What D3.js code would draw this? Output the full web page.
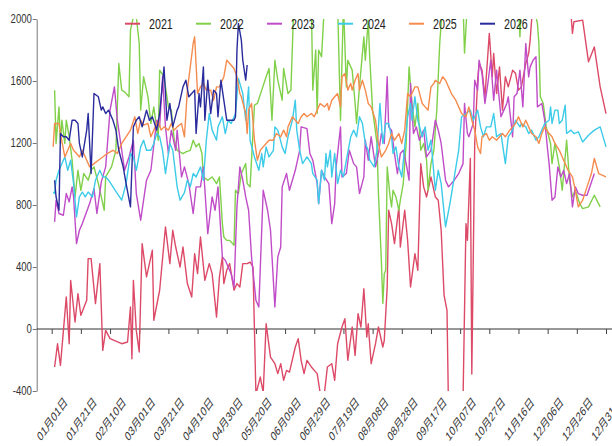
<!DOCTYPE html>
<html><head><meta charset="utf-8">
<script src="https://cdn.jsdelivr.net/npm/d3@7"></script>
<style>body{margin:0;background:#fff;} svg{display:block;}</style>
</head><body><svg id="c" width="612" height="446"></svg>
<script>
const years = ["2021","2022","2023","2024","2025","2026"];
const colors = ["#dc4a68","#80d04a","#c04cc8","#3ccbe8","#f58c4e","#2a2b9c"];
const tickLabels = ["01月01日","01月21日","02月10日","03月01日","03月21日","04月10日","04月30日","05月20日","06月09日","06月29日","07月19日","08月08日","08月28日","09月17日","10月07日","10月27日","11月16日","12月06日","12月26日","12月31日"];
const tickIndex = [0,20,40,60,80,100,120,140,160,180,200,220,240,260,280,300,320,340,360,380];
const yTicks = [-400,0,400,800,1200,1600,2000];

// [category index, value]
const s2021 = [[2,-245],[4,-95],[6,-235],[10,207],[12,-95],[13,314],[16,45],[18,228],[20,88],[24,185],[25,454],[27,454],[30,164],[33,422],[35,-138],[37,-9],[40,-62],[48,-95],[52,-84],[54,142],[55,-192],[56,314],[58,-9],[60,-148],[62,551],[65,336],[69,508],[70,56],[74,250],[78,659],[81,422],[83,637],[85,529],[88,400],[90,529],[93,293],[96,207],[98,486],[100,357],[102,594],[105,314],[108,422],[110,357],[113,77],[115,336],[117,465],[118,293],[120,379],[122,422],[125,250],[127,293],[129,271],[131,422],[134,422],[136,432],[138,400],[140,-420],[143,-310],[145,-410],[147,34],[150,-181],[153,-224],[155,-288],[157,-224],[159,-331],[161,-267],[163,-278],[167,-116],[169,-62],[171,-202],[173,-288],[175,-202],[178,-245],[182,-288],[184,-410],[187,-410],[189,-245],[192,-224],[194,-331],[196,-95],[199,13],[201,67],[203,-202],[206,13],[208,-170],[210,99],[212,13],[214,260],[216,-52],[217,34],[219,-224],[222,-95],[224,13],[227,-116],[228,-73],[230,271],[231,766],[233,680],[235,551],[238,788],[239,529],[242,766],[244,572],[246,271],[249,486],[251,379],[253,1067],[255,917],[257,852],[260,981],[263,852],[265,831],[267,637],[269,217],[271,120],[272,-500],[276,-500],[280,-500],[282,-450],[284,680],[285,572],[287,1100],[288,-290],[290,1197],[292,1605],[293,1713],[295,1670],[297,1498],[300,1907],[302,1627],[303,1778],[305,1519],[307,1691],[309,1412],[311,1627],[313,1562],[316,1670],[318,1648],[320,1541],[322,1562],[325,1713],[327,1778],[328,1864],[329,1993],[331,2150],[342,2150],[355,2150],[357,1907],[358,1982],[364,1993],[368,1724],[372,1820],[376,1562],[380,1390]];
const s2022 = [[2,1541],[3,1197],[5,1433],[6,1197],[7,1347],[9,1197],[10,1347],[12,1240],[14,1089],[16,852],[18,1024],[20,895],[22,1003],[25,960],[27,1024],[29,1046],[32,938],[34,852],[36,766],[37,981],[41,1046],[44,1153],[46,1713],[48,1541],[50,1530],[53,1498],[54,1928],[56,2014],[58,2014],[60,1842],[61,1412],[63,1627],[66,1498],[68,1326],[70,1433],[73,1218],[74,1670],[77,1627],[80,1433],[82,1412],[84,1218],[86,1153],[90,1132],[92,1143],[95,1153],[97,1218],[99,1175],[101,1197],[103,1132],[104,981],[107,960],[110,981],[113,938],[115,981],[117,680],[118,594],[120,572],[122,572],[125,540],[126,895],[128,874],[130,1003],[133,1067],[134,938],[136,917],[139,1444],[141,1455],[144,1541],[147,1627],[149,1681],[151,1347],[153,1734],[155,1605],[158,1476],[159,1681],[162,1519],[164,1541],[166,2100],[170,2100],[174,2050],[178,2100],[179,1541],[181,1800],[182,1390],[183,1799],[185,1756],[187,2100],[196,2100],[198,1347],[200,2100],[202,1562],[203,1734],[206,1670],[208,1455],[209,1326],[211,1562],[214,1885],[215,1734],[217,1993],[218,1756],[220,1412],[223,1197],[224,874],[226,443],[227,164],[228,357],[229,379],[230,1046],[232,852],[233,788],[234,895],[236,852],[238,766],[239,831],[241,938],[243,1197],[245,1691],[247,1455],[249,1304],[251,1455],[253,1153],[255,1197],[257,1089],[258,895],[260,1067],[262,1153],[264,1412],[266,1842],[268,2100],[282,2100],[283,1780],[285,2100],[320,2100],[321,1885],[322,2100],[330,2100],[333,1970],[334,1842],[335,1498],[337,1455],[339,1304],[342,1197],[343,1067],[345,1197],[348,1046],[350,895],[352,1110],[353,1218],[355,960],[357,852],[359,895],[362,809],[364,777],[368,788],[372,863],[376,788]];
const s2023 = [[2,691],[3,831],[5,745],[8,734],[10,874],[12,820],[14,917],[15,852],[17,551],[19,637],[21,680],[26,809],[29,906],[31,745],[34,949],[37,1046],[40,1412],[43,1562],[45,1347],[48,1153],[50,1024],[53,1110],[56,1218],[58,874],[61,702],[65,960],[68,1024],[72,1347],[74,1304],[76,1627],[78,1304],[80,1132],[82,1283],[85,1153],[86,1283],[89,981],[91,1046],[94,938],[97,745],[99,917],[102,917],[104,1046],[107,615],[110,852],[112,766],[114,917],[117,465],[119,443],[121,400],[123,357],[125,271],[127,788],[129,1046],[131,960],[133,852],[135,766],[137,465],[140,185],[142,142],[145,895],[148,766],[150,637],[153,142],[155,465],[157,529],[158,917],[161,1003],[163,895],[167,1024],[170,1153],[171,1304],[175,1293],[177,1132],[179,1089],[182,938],[183,809],[185,1024],[187,981],[190,938],[192,680],[194,809],[195,1046],[198,1304],[199,981],[202,1003],[204,1153],[207,1067],[209,1046],[211,874],[214,981],[215,1218],[217,1089],[219,1240],[222,1046],[224,1132],[226,1261],[228,1197],[230,1627],[231,1304],[233,1283],[235,1132],[237,1003],[239,1132],[241,1153],[243,1067],[245,960],[246,1584],[248,1261],[250,1304],[252,1218],[255,1283],[257,1110],[260,1153],[263,1347],[265,1283],[267,1197],[270,960],[272,917],[276,960],[279,1003],[282,1067],[283,1455],[285,1261],[286,1240],[289,1326],[290,1605],[292,1541],[293,1734],[294,1691],[295,1648],[297,1455],[299,1584],[301,1734],[303,1476],[305,1670],[306,1562],[308,1369],[310,1412],[312,1455],[313,1498],[316,1240],[317,1498],[319,1519],[321,1670],[323,1433],[325,1842],[327,1627],[328,1691],[330,1734],[332,1756],[333,1433],[336,1455],[338,1347],[340,1153],[341,1067],[343,831],[345,852],[347,1046],[349,981],[351,1024],[353,938],[355,1003],[357,788],[359,917],[361,874],[364,863],[367,863],[372,1003]];
const s2024 = [[1,884],[2,874],[3,960],[5,1024],[8,1089],[9,1110],[11,1024],[13,1089],[15,938],[17,723],[19,852],[21,884],[23,852],[25,884],[28,852],[30,960],[33,1024],[35,981],[37,981],[39,960],[42,917],[45,874],[48,831],[51,938],[54,1132],[56,1110],[58,1024],[61,1175],[63,1218],[65,1153],[68,1153],[70,1197],[72,1261],[74,1240],[76,1153],[78,1003],[81,1197],[83,1153],[86,917],[88,831],[91,880],[93,960],[95,917],[97,1003],[99,981],[102,1046],[104,960],[106,1218],[108,1390],[110,1283],[113,1218],[114,1304],[117,1369],[119,1261],[121,1347],[123,1326],[126,1390],[128,1616],[131,1519],[133,1347],[135,1562],[136,1218],[139,1110],[142,1024],[144,1132],[145,1046],[147,1175],[149,1110],[152,1153],[153,1304],[155,1283],[158,1175],[160,1132],[162,1240],[165,1347],[167,1476],[168,1283],[170,1153],[172,1067],[175,1110],[178,1067],[179,1003],[182,960],[183,809],[185,1024],[187,960],[188,1132],[189,1046],[191,1153],[192,981],[194,1132],[196,938],[198,1024],[200,981],[202,1089],[205,1240],[207,1283],[209,1240],[211,1369],[213,1326],[215,1197],[217,1153],[218,1089],[221,1046],[223,1153],[225,1455],[227,1197],[229,1326],[231,1326],[233,1240],[234,1132],[236,1175],[238,1046],[240,981],[242,1175],[244,1369],[246,1455],[247,1347],[249,1498],[251,1347],[254,1240],[256,1304],[258,1153],[260,1218],[263,895],[265,1024],[267,938],[270,659],[273,809],[276,981],[279,1153],[281,1369],[284,1390],[287,1412],[289,1347],[292,1412],[294,1304],[296,1240],[298,1304],[301,1304],[303,1390],[305,1240],[308,1261],[311,1067],[313,1240],[316,1283],[318,1347],[321,1304],[322,1326],[325,1304],[327,1261],[329,1283],[332,1218],[334,1240],[336,1283],[338,1326],[341,1347],[342,1433],[343,1326],[345,1412],[347,1412],[348,1326],[350,1347],[352,1444],[353,1261],[356,1283],[358,1261],[361,1272],[364,1207],[368,1250],[372,1283],[376,1304],[380,1175]];
const s2025 = [[1,1175],[2,1326],[5,1326],[6,1261],[9,1110],[11,1153],[13,1197],[15,1153],[17,1132],[19,1110],[21,1153],[24,1089],[26,1046],[29,1067],[32,1089],[35,1110],[38,1132],[42,1153],[45,1132],[48,1197],[51,1240],[54,1283],[57,1369],[59,1261],[61,1347],[63,1315],[66,1326],[68,1240],[70,1283],[73,1347],[75,1283],[77,1304],[80,1283],[82,1326],[84,1283],[86,1304],[89,1326],[91,1240],[93,1541],[95,1691],[97,1842],[98,1885],[100,1519],[102,1562],[104,1584],[106,1541],[109,1541],[111,1476],[113,1562],[115,1562],[118,1627],[120,1734],[122,1713],[125,1681],[127,1627],[129,1519],[130,1498],[133,1390],[134,1261],[135,1412],[137,1455],[139,1218],[141,1089],[143,1153],[145,1175],[147,1197],[149,1218],[152,1218],[154,1261],[157,1240],[159,1283],[161,1240],[162,1304],[165,1369],[167,1347],[169,1326],[171,1369],[173,1390],[175,1369],[178,1390],[180,1369],[182,1412],[184,1455],[187,1433],[189,1455],[190,1412],[192,1476],[194,1498],[196,1519],[198,1433],[199,1627],[201,1648],[203,1541],[205,1584],[206,1541],[208,1605],[210,1648],[211,1541],[213,1605],[215,1541],[217,1455],[219,1433],[222,1347],[224,1197],[226,1110],[229,1153],[231,1197],[233,1261],[235,1218],[238,1261],[240,1197],[242,1283],[244,1519],[246,1498],[249,1562],[251,1562],[254,1455],[256,1433],[258,1412],[260,1562],[262,1584],[263,1605],[266,1584],[268,1627],[270,1605],[272,1562],[274,1519],[277,1476],[279,1433],[281,1390],[284,1369],[286,1433],[288,1347],[290,1283],[292,1175],[294,1132],[295,1240],[298,1261],[300,1218],[302,1240],[305,1218],[307,1240],[309,1261],[311,1240],[314,1283],[316,1304],[318,1326],[320,1369],[323,1304],[325,1347],[327,1304],[329,1261],[332,1240],[334,1197],[336,1261],[338,1304],[341,1261],[343,1240],[345,1197],[348,1153],[350,1110],[352,1067],[354,1024],[357,981],[359,895],[361,788],[364,831],[367,917],[370,1003],[372,1100],[375,1003],[380,981]];
const s2026 = [[2,960],[3,852],[5,766],[6,1261],[8,1240],[10,1240],[12,1218],[14,1347],[16,1347],[18,1326],[19,1197],[21,1110],[24,1283],[25,1390],[27,1003],[29,1519],[32,1498],[34,1412],[35,1433],[37,1390],[39,1412],[42,1347],[44,1283],[46,1153],[49,1046],[51,938],[54,788],[56,1304],[58,1347],[60,1369],[62,1304],[65,1412],[67,1347],[69,1369],[72,1283],[74,1390],[77,1691],[79,1347],[81,1455],[83,1304],[86,1412],[87,1433],[90,1562],[92,1605],[94,1498],[96,1519],[98,1541],[99,1261],[101,1519],[102,1433],[104,1691],[105,1347],[107,1605],[109,1390],[111,1541],[113,1519],[114,1369],[116,1605],[118,1476],[120,1347],[122,1347],[125,1347],[126,1369],[127,1799],[128,1971],[130,1864],[131,1734],[133,1606],[134,1703]];

const series = [s2021, s2022, s2023, s2024, s2025, s2026];

const FONT = "'Liberation Sans', Arial, 'Noto Sans CJK SC', sans-serif";
const svg = d3.select("#c");
const x = d3.scaleLinear().domain([0, 380]).range([51.7, 606]);
const y = d3.scaleLinear().domain([-400, 2000]).range([391, 19]);
const axisX0 = 36.7;

svg.append("defs").append("clipPath").attr("id", "clip")
  .append("rect").attr("x", axisX0).attr("y", y(2000)).attr("width", 612 - axisX0).attr("height", y(-400) - y(2000));

// Y axis
const gy = svg.append("g").attr("transform", `translate(${axisX0},0)`)
  .call(d3.axisLeft(y).tickValues(yTicks).tickSize(4).tickSizeOuter(0).tickPadding(2).tickFormat(d => String(d)));
gy.select(".domain").attr("stroke", "#777");
gy.selectAll(".tick line").attr("stroke", "#777");
gy.selectAll(".tick text").attr("font-family", FONT).attr("font-size", 12).attr("fill", "#333")
  .attr("transform", "scale(0.8,1)");

// X axis at zero
const gx = svg.append("g").attr("transform", `translate(0,${y(0)})`)
  .call(d3.axisBottom(x).tickValues(tickIndex).tickSize(5).tickSizeOuter(0).tickFormat((d, i) => tickLabels[i]));
gx.select(".domain").remove();
gx.insert("line", ":first-child").attr("x1", axisX0).attr("x2", 612).attr("y1", 0).attr("y2", 0).attr("stroke", "#333").attr("stroke-width", 1.2);
gx.selectAll(".tick line").attr("stroke", "#444");
gx.selectAll(".tick text").attr("font-family", FONT).attr("font-size", 13).attr("fill", "#333")
  .attr("x", 0).attr("y", 0).attr("dy", "0.35em").attr("text-anchor", "middle")
  .attr("transform", `translate(0,${419 - y(0)}) scale(0.7,1) rotate(-45)`);

// Lines
const line = d3.line().x(d => x(d[0])).y(d => y(d[1]));
const gl = svg.append("g").attr("clip-path", "url(#clip)");
series.forEach((s, i) => {
  gl.append("path").datum(s).attr("d", line).attr("fill", "none")
    .attr("stroke", colors[i]).attr("stroke-width", 1.4).attr("stroke-linejoin", "round");
});

// Legend
const lg = svg.append("g");
years.forEach((yr, i) => {
  const g = lg.append("g").attr("transform", `translate(${125 + 71 * i},23.7)`);
  g.append("line").attr("x1", 0).attr("x2", 15).attr("y1", 0).attr("y2", 0).attr("stroke", colors[i]).attr("stroke-width", 2);
  g.append("text").attr("transform", "translate(24,0) scale(0.69,1)").attr("dy", "0.36em")
    .attr("font-family", FONT).attr("font-size", 15.5).attr("fill", "#222").text(yr);
});
</script></body></html>
